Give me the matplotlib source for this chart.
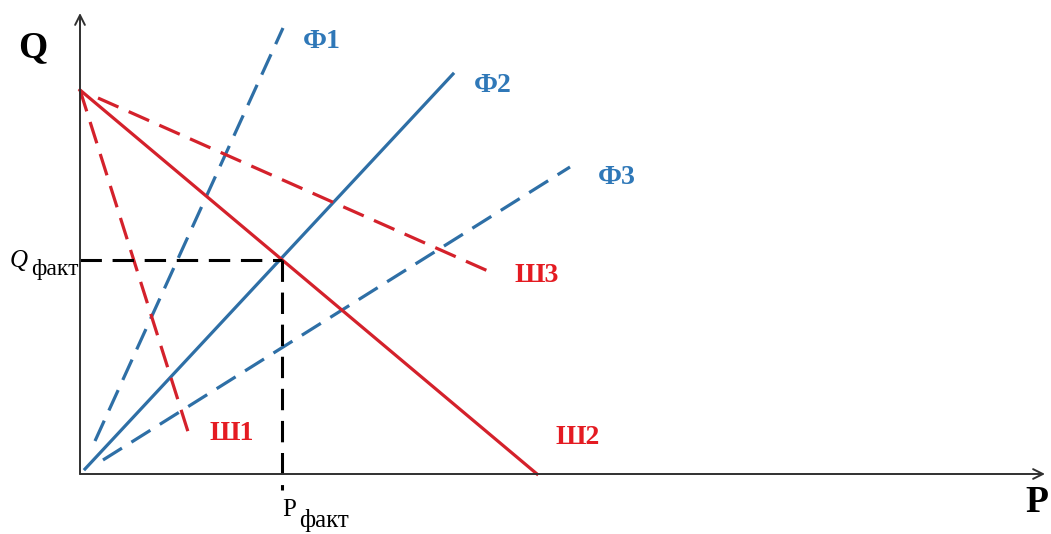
import matplotlib.pyplot as plt

# supply/demand style schematic: Ф-lines from the origin, Ш-lines from the Q intercept
q_start = 38.4
sh1_x = [0.0, 11.0]
sh1_y = [q_start, 3.6]
sh2_x = [0.0, 45.7]
sh2_y = [q_start, 0.0]
sh3_x = [1.8, 40.8]
sh3_y = [37.6, 20.3]

f1_x = [1.5, 20.3]
f1_y = [3.3, 44.6]
f2_x = [0.5, 37.3]
f2_y = [0.5, 40.0]
f3_x = [2.3, 49.0]
f3_y = [1.4, 30.7]

p_fact = 20.2
q_fact = 21.4

blue = '#2E6FA6'
red = '#D4212B'
label_blue = '#2F78B8'
label_red = '#E41B22'
serif = 'Liberation Serif'

fig = plt.figure(figsize=(10.51, 5.34), dpi=100)
ax = fig.add_axes([0, 0, 1, 1])
ax.set_xlim(-8.0, 97.1)
ax.set_ylim(-6.0, 47.4)
ax.axis('off')

# axes with open arrow heads
arrow = dict(arrowstyle='->, head_length=0.7, head_width=0.35', color='#303030', lw=1.4,
             shrinkA=0, shrinkB=0)
ax.annotate('', xy=(0, 46.1), xytext=(0, 0), arrowprops=arrow)
ax.annotate('', xy=(96.5, 0), xytext=(0, 0), arrowprops=arrow)

dash = (7, 3.5)
ax.plot(f1_x, f1_y, color=blue, lw=2.3, dashes=dash)
ax.plot(f2_x, f2_y, color=blue, lw=2.3)
ax.plot(f3_x, f3_y, color=blue, lw=2.3, dashes=dash)

ax.plot(sh1_x, sh1_y, color=red, lw=2.3, dashes=dash)
ax.plot(sh2_x, sh2_y, color=red, lw=2.3)
ax.plot(sh3_x, sh3_y, color=red, lw=2.3, dashes=dash)

# actual price / quantity guides
ax.plot([0, p_fact], [q_fact, q_fact], color='black', lw=2.2, dashes=dash)
ax.plot([p_fact, p_fact], [q_fact, -1.6], color='black', lw=2.2, dashes=dash)

bold = dict(family=serif, fontweight='bold', ha='center', va='center')
ax.text(-4.7, 42.6, 'Q', fontsize=27, color='black', **bold)
ax.text(95.7, -2.9, 'P', fontsize=27, color='black', **bold)

ax.text(24.2, 43.2, 'Ф1', fontsize=20, color=label_blue, **bold)
ax.text(41.3, 38.8, 'Ф2', fontsize=20, color=label_blue, **bold)
ax.text(53.7, 29.6, 'Ф3', fontsize=20, color=label_blue, **bold)
ax.text(15.2, 4.1, 'Ш1', fontsize=20, color=label_red, **bold)
ax.text(49.8, 3.7, 'Ш2', fontsize=20, color=label_red, **bold)
ax.text(45.7, 19.8, 'Ш3', fontsize=20, color=label_red, **bold)

ax.text(-6.1, 21.3, 'Q', fontsize=18, style='italic', family=serif, ha='center', va='center')
ax.text(-2.5, 20.5, 'факт', fontsize=17, family=serif, ha='center', va='center')
ax.text(20.95, -3.6, 'P', fontsize=18, family=serif, ha='center', va='center')
ax.text(24.4, -4.6, 'факт', fontsize=18, family=serif, ha='center', va='center')

fig.savefig('out.png', dpi=100)
